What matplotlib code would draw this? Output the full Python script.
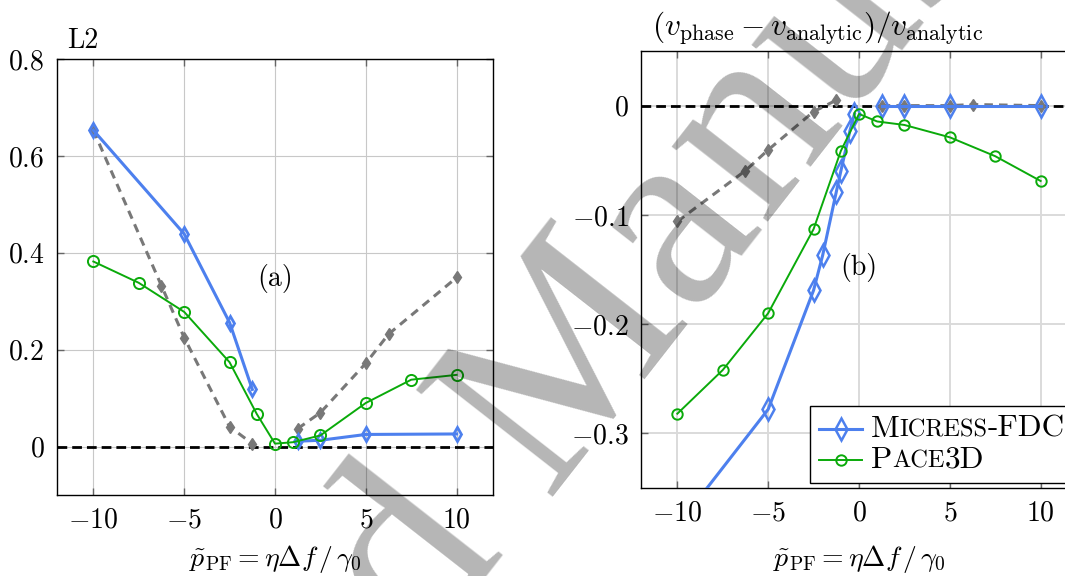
import numpy as np
import matplotlib
matplotlib.use('Agg')
import matplotlib.pyplot as plt
from matplotlib.ticker import FixedLocator, FuncFormatter
from matplotlib.offsetbox import TextArea, HPacker, VPacker, DrawingArea, AnchoredOffsetbox
from matplotlib.lines import Line2D


# (a) L2 error
a_micress_x = [-10, -5, -2.5, -1.25, 1.25, 2.5, 5, 10]
a_micress_y = [0.653, 0.439, 0.256, 0.118, 0.011, 0.013, 0.025, 0.026]
a_pace_x = [-10, -7.5, -5, -2.5, -1, 0, 1, 2.5, 5, 7.5, 10]
a_pace_y = [0.382, 0.338, 0.278, 0.174, 0.067, 0.006, 0.009, 0.023, 0.090, 0.138, 0.148]
a_ref_x = [-10, -6.25, -5, -2.5, -1.25, 1.25, 2.5, 5, 6.25, 10]
a_ref_y = [0.653, 0.332, 0.225, 0.041, 0.006, 0.037, 0.070, 0.172, 0.232, 0.349]

# (b) relative phase velocity error
b_micress_x = [-10, -5, -2.5, -2, -1.25, -1, -0.5, -0.25, 1.25, 2.5, 5, 10]
b_micress_y = [-0.385, -0.278, -0.169, -0.137, -0.079, -0.060, -0.023, -0.0077, 0.0, 0.0, 0.0, 0.0]
b_pace_x = [-10, -7.5, -5, -2.5, -1, 0, 1, 2.5, 5, 7.5, 10]
b_pace_y = [-0.282, -0.242, -0.190, -0.113, -0.0415, -0.0076, -0.0145, -0.0177, -0.029, -0.0463, -0.069]
b_ref_x = [-10, -6.25, -5, -2.5, -1.25, 1.25, 2.5, 5, 6.25, 10]
b_ref_y = [-0.106, -0.0595, -0.0405, -0.0055, 0.005, 0.0, 0.0, 0.0, 0.001, 0.0]

xticks = [-10, -5, 0, 5, 10]
a_yticks = [0, 0.2, 0.4, 0.6, 0.8]
b_yticks = [-0.3, -0.2, -0.1, 0]

BLUE = '#4d80ee'
GREEN = '#0aaa0a'
GRAY = '#787878'
FS = 20
FS_BIG = 22.5

plt.rcParams['font.family'] = 'serif'
plt.rcParams['font.serif'] = ['cmr10']
plt.rcParams['mathtext.fontset'] = 'cm'
plt.rcParams['axes.formatter.use_mathtext'] = True


def split(xs, ys):
    xs, ys = np.array(xs), np.array(ys)
    return (xs[xs < 0], ys[xs < 0]), (xs[xs > 0], ys[xs > 0])


def style_axes(ax, yticks, ylim, grid_lw, grid_c):
    ax.set_xlim(-12, 12)
    ax.set_ylim(*ylim)
    ax.xaxis.set_major_locator(FixedLocator(xticks))
    ax.yaxis.set_major_locator(FixedLocator(yticks))
    fmt = FuncFormatter(lambda v, p: '$%g$' % v)
    ax.xaxis.set_major_formatter(fmt)
    ax.yaxis.set_major_formatter(fmt)
    ax.tick_params(direction='in', length=5, width=1, color='#666666',
                   labelsize=FS, top=True, right=True, pad=9)
    ax.grid(True, color=grid_c, lw=grid_lw)
    ax.set_axisbelow(True)
    for s in ax.spines.values():
        s.set_linewidth(1.0)
    ax.patch.set_alpha(0)
    ax.axhline(0, color='black', lw=2, dashes=(3.5, 1.8), zorder=1.5)


fig = plt.figure(figsize=(10.65, 5.76), dpi=100)
ax1 = fig.add_axes([57 / 1065, 1 - 495 / 576, 436 / 1065, 436 / 576])
ax2 = fig.add_axes([641 / 1065, 1 - 488 / 576, 436 / 1065, 437 / 576])

# panel (a)
style_axes(ax1, a_yticks, (-0.1, 0.8), 0.8, '#c8c8c8')
for xs, ys in split(a_ref_x, a_ref_y):
    ax1.plot(xs, ys, color=GRAY, lw=2.2, dashes=(2.8, 2.0), marker='d', ms=6, zorder=2)
for xs, ys in split(a_micress_x, a_micress_y):
    ax1.plot(xs, ys, color=BLUE, lw=2.2, marker='d', ms=7, mfc='none', mew=2.0, zorder=3)
ax1.plot(a_pace_x, a_pace_y, color=GREEN, lw=1.4, marker='o', ms=8, mfc='none', mew=1.4, zorder=4)
ax1.text(0, 0.347, '(a)', fontsize=FS, ha='center', va='center')
ax1.text(0.023, 1.025, 'L2', transform=ax1.transAxes, fontsize=FS, ha='left', va='baseline')

# panel (b)
style_axes(ax2, b_yticks, (-0.35, 0.05), 1.4, '#dadada')
for xs, ys in split(b_ref_x, b_ref_y):
    ax2.plot(xs, ys, color=GRAY, lw=2.2, dashes=(2.8, 2.0), marker='d', ms=6, zorder=2)
for xs, ys in split(b_micress_x, b_micress_y):
    ax2.plot(xs, ys, color=BLUE, lw=2.2, marker='d', ms=11, mfc='none', mew=1.8, zorder=3)
ax2.plot(b_pace_x, b_pace_y, color=GREEN, lw=1.4, marker='o', ms=7.5, mfc='none', mew=1.4, zorder=4)
ax2.text(0, -0.1485, '(b)', fontsize=FS, ha='center', va='center')
ax2.text(0.025, 1.034, r'$(v_{\mathrm{phase}} - v_{\mathrm{analytic}})/v_{\mathrm{analytic}}$',
         transform=ax2.transAxes, fontsize=FS_BIG, ha='left', va='baseline')

xlabel = r'$\tilde{p}_{\mathrm{PF}} = \eta\Delta f\,/\,\gamma_0$'
fig.text(275 / 1065, 1 - 559 / 576, xlabel, fontsize=FS, ha='center', va='center')
fig.text(859 / 1065, 1 - 559 / 576, xlabel, fontsize=FS, ha='center', va='center')


# legend with small caps labels
def smallcaps(parts):
    kids = [TextArea(s, textprops=dict(fontsize=FS_BIG if big else FS_BIG * 0.78, family='serif'))
            for s, big in parts]
    return HPacker(children=kids, align='baseline', pad=0, sep=0)


def handle(color, lw, marker, ms, mew):
    da = DrawingArea(31, 14, 0, 0)
    da.add_artist(Line2D([0, 15.5, 31], [7, 7, 7], color=color, lw=lw, marker=marker,
                         markevery=[1], ms=ms, mfc='none', mew=mew))
    return da


row1 = HPacker(children=[handle(BLUE, 2.2, 'd', 11, 1.8),
                         smallcaps([('M', True), ('ICRESS', False), ('-FDC', True)])],
               align='center', pad=0, sep=6)
row2 = HPacker(children=[handle(GREEN, 1.4, 'o', 7.5, 1.4),
                         smallcaps([('P', True), ('ACE', False), ('3D', True)])],
               align='center', pad=0, sep=6)
box = VPacker(children=[row1, row2], align='left', pad=0, sep=2)
leg = AnchoredOffsetbox(loc='lower right', child=box, pad=0.3, borderpad=0, frameon=True,
                        prop=dict(size=FS_BIG), bbox_to_anchor=(1074 / 1065, 1 - 483 / 576),
                        bbox_transform=fig.transFigure)
leg.patch.set_boxstyle('square', pad=0)
leg.patch.set_edgecolor('black')
leg.patch.set_linewidth(1.0)
leg.set_zorder(5)
fig.add_artist(leg)

# "Accepted Manuscript" stamp
wm = dict(fontsize=190, family='Liberation Serif', color='black', alpha=0.29,
          rotation=52, rotation_mode='anchor', va='baseline', zorder=10)
fig.text(545 / 1065, 1 - 497 / 576, 'Manuscript', ha='left', **wm)
fig.text(504 / 1065, 1 - 549 / 576, 'Accepted', ha='right', **wm)

fig.savefig('out.png', dpi=100)
